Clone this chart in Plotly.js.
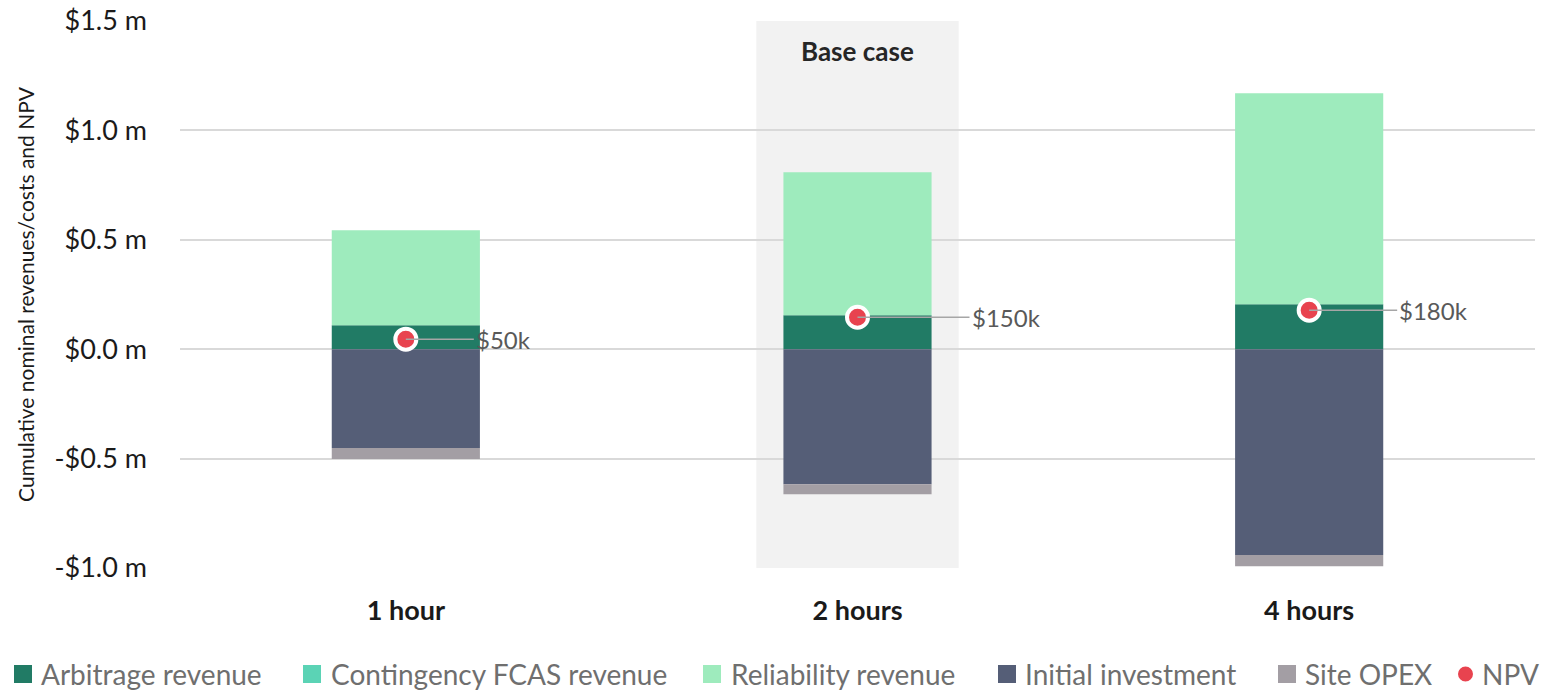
<!DOCTYPE html>
<html>
<head>
<meta charset="utf-8">
<script src="https://cdn.plot.ly/plotly-3.0.1.min.js"></script>
<style>html,body{margin:0;padding:0;background:#fff;}#chart{width:1541px;height:691px;}</style>
</head>
<body>
<div id="chart"></div>
<script>
const categories = ["1 hour", "2 hours", "4 hours"];
const arbitrage = [0.110, 0.155, 0.206];
const contingencyFCAS = [0, 0, 0];
const reliability = [0.434, 0.654, 0.964];
const initialInvestment = [-0.452, -0.617, -0.941];
const siteOpex = [-0.050, -0.046, -0.051];
const npv = [0.046, 0.146, 0.178];
const npvLabels = ["$50k", "$150k", "$180k"];
const yTickVals = [-1.0, -0.5, 0, 0.5, 1.0, 1.5];
const yTickText = ["-$1.0 m", "-$0.5 m", "$0.0 m", "$0.5 m", "$1.0 m", "$1.5 m"];
const baseCaseCategory = "2 hours";

const FONT = "Lato, 'Open Sans', sans-serif";
const W = 0.328;
const WIDTH = 1541, HEIGHT = 691;
const M = {l: 180, r: 6, t: 21, b: 123};
const PW = WIDTH - M.l - M.r, PH = HEIGHT - M.t - M.b;
const px2x = px => (px - M.l) / PW;
const py2y = py => (HEIGHT - M.b - py) / PH;

function barTrace(name, y, color) {
  return {type: "bar", name: name, x: categories, y: y, width: W,
    marker: {color: color, line: {width: 0}}, hoverinfo: "name+y"};
}

const traces = [
  barTrace("Arbitrage revenue", arbitrage, "#217B65"),
  barTrace("Contingency FCAS revenue", contingencyFCAS, "#5BD3B5"),
  barTrace("Reliability revenue", reliability, "#9EEBBD"),
  barTrace("Initial investment", initialInvestment, "#555E77"),
  barTrace("Site OPEX", siteOpex, "#A39EA4"),
  {type: "scatter", mode: "markers", name: "NPV", x: categories, y: npv,
   marker: {color: "#E8434F", size: 21, line: {color: "#ffffff", width: 4}}}
];

const labelOffsets = [68, 112, 88];
const annotations = categories.map((c, i) => ({
  x: c, y: npv[i], xref: "x", yref: "y", text: npvLabels[i],
  showarrow: true, arrowhead: 0, arrowwidth: 1.5, arrowcolor: "#A6A6A6",
  ax: labelOffsets[i], ay: 0, xanchor: "left", yanchor: "middle",
  font: {family: FONT, size: 24, color: "#595959"}, standoff: 0, startstandoff: 0
}));
annotations.push({
  x: baseCaseCategory, y: 1, xref: "x", yref: "paper", yanchor: "top", yshift: -12,
  text: "<b>Base case</b>", showarrow: false,
  font: {family: FONT, size: 26, color: "#262626"}
});

const shapes = [{type: "rect", xref: "x", yref: "paper", x0: 0.776, x1: 1.224, y0: 0, y1: 1,
  fillcolor: "#F2F2F2", line: {width: 0}, layer: "below"}];

// Custom one-row legend built from the traces (positions in pixels)
const legendSymbolStart = [14, 303, 703, 998, 1278, 1458];
const legendTextStart = [40, 330, 730, 1024, 1304, 1481];
const legendY = 674;
traces.forEach((t, i) => {
  const isMarker = t.type === "scatter";
  const col = t.marker.color;
  const x0 = legendSymbolStart[i];
  if (isMarker) {
    shapes.push({type: "circle", xref: "paper", yref: "paper",
      x0: px2x(x0), x1: px2x(x0 + 15), y0: py2y(legendY + 7.5), y1: py2y(legendY - 7.5),
      fillcolor: col, line: {width: 0}});
  } else {
    shapes.push({type: "rect", xref: "paper", yref: "paper",
      x0: px2x(x0), x1: px2x(x0 + 18), y0: py2y(legendY + 9), y1: py2y(legendY - 9),
      fillcolor: col, line: {width: 0}});
  }
  annotations.push({xref: "paper", yref: "paper", x: px2x(legendTextStart[i]), y: py2y(legendY),
    xanchor: "left", yanchor: "middle", showarrow: false, text: t.name, borderpad: 0,
    font: {family: FONT, size: 28, color: "#6F6F6F"}});
});

const layout = {
  width: WIDTH, height: HEIGHT,
  margin: {l: M.l, r: M.r, t: M.t, b: M.b, autoexpand: false},
  paper_bgcolor: "#ffffff", plot_bgcolor: "rgba(0,0,0,0)",
  barmode: "relative",
  font: {family: FONT, color: "#595959"},
  showlegend: false,
  xaxis: {type: "category", range: [-0.5, 2.5], showgrid: false, zeroline: false,
    showline: false, ticks: "", ticklabelstandoff: 24,
    tickfont: {family: FONT, size: 27, color: "#1a1a1a", weight: "bold"}},
  yaxis: {range: [-1.0, 1.5], tickvals: yTickVals, ticktext: yTickText,
    showgrid: true, gridcolor: "#D9D9D9", gridwidth: 2, zeroline: true,
    zerolinecolor: "#D9D9D9", zerolinewidth: 2, showline: false, ticks: "",
    ticklabelstandoff: 32,
    tickfont: {family: FONT, size: 27, color: "#1a1a1a"},
    title: {text: "Cumulative nominal revenues/costs and NPV", standoff: 14,
      font: {family: FONT, size: 21, color: "#1a1a1a"}}},
  shapes: shapes,
  annotations: annotations
};

Plotly.newPlot("chart", traces, layout, {displayModeBar: false, staticPlot: true});
</script>
</body>
</html>
